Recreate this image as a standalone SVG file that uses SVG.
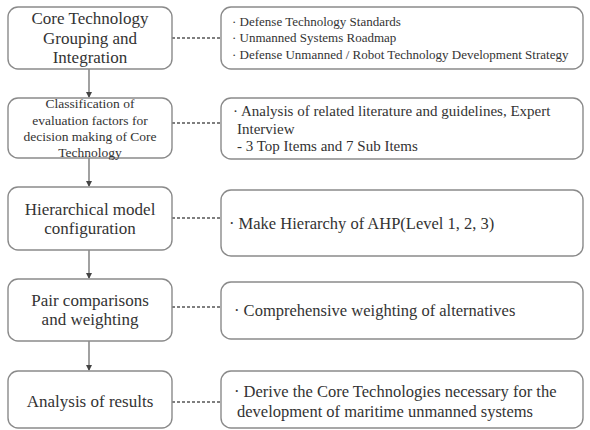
<svg xmlns="http://www.w3.org/2000/svg" width="590" height="430" viewBox="0 0 590 430">
<defs>
<marker id="ah" markerWidth="6" markerHeight="6" refX="5" refY="3" orient="auto" markerUnits="userSpaceOnUse">
<path d="M0,0 L6,3 L0,6 z" fill="#444"/>
</marker>
<style>
.box{fill:#fff;stroke:#8a8a8a;stroke-width:1.4}
.t{font-family:"Liberation Serif","Times New Roman",serif;fill:#333}
.l{text-anchor:middle;font-size:17px}
.dash{stroke:#555;stroke-width:1.3;stroke-dasharray:3,2;fill:none}
.arr{stroke:#555;stroke-width:1.1;fill:none}
</style>
</defs>
<rect width="590" height="430" fill="#fff"/>
<g id="connectors">
<line class="dash" x1="172" y1="38" x2="221" y2="38"/>
<line class="dash" x1="172" y1="123" x2="221" y2="123"/>
<line class="dash" x1="172" y1="218" x2="221" y2="218"/>
<line class="dash" x1="172" y1="307" x2="221" y2="307"/>
<line class="dash" x1="172" y1="402" x2="221" y2="402"/>
<line class="arr" x1="89" y1="69" x2="89" y2="97" marker-end="url(#ah)"/>
<line class="arr" x1="89" y1="158" x2="89" y2="186" marker-end="url(#ah)"/>
<line class="arr" x1="89" y1="250" x2="89" y2="278" marker-end="url(#ah)"/>
<line class="arr" x1="89" y1="341" x2="89" y2="370" marker-end="url(#ah)"/>
</g>
<g id="n1">
<rect class="box" x="8" y="7" width="164" height="62" rx="10"/>
<text class="t l" x="90" y="24">Core Technology</text>
<text class="t l" x="90" y="44">Grouping and</text>
<text class="t l" x="90" y="63">Integration</text>
</g>
<g id="n2">
<rect class="box" x="8" y="98" width="164" height="60" rx="10"/>
<text class="t l" x="90" y="108" style="font-size:13.5px">Classification of</text>
<text class="t l" x="90" y="125" style="font-size:13.5px">evaluation factors for</text>
<text class="t l" x="90" y="141" style="font-size:13.5px">decision making of Core</text>
<text class="t l" x="90" y="157" style="font-size:13.5px">Technology</text>
</g>
<g id="n3">
<rect class="box" x="8" y="187" width="164" height="63" rx="10"/>
<text class="t l" x="90" y="215">Hierarchical model</text>
<text class="t l" x="90" y="234">configuration</text>
</g>
<g id="n4">
<rect class="box" x="8" y="279" width="164" height="62" rx="10"/>
<text class="t l" x="90" y="306">Pair comparisons</text>
<text class="t l" x="90" y="325">and weighting</text>
</g>
<g id="n5">
<rect class="box" x="8" y="371" width="164" height="57" rx="10"/>
<text class="t l" x="90" y="407">Analysis of results</text>
</g>
<g id="r1">
<rect class="box" x="221" y="7" width="362" height="62" rx="10"/>
<text class="t" x="232" y="26" style="font-size:13px">· Defense Technology Standards</text>
<text class="t" x="232" y="42" style="font-size:13px">· Unmanned Systems Roadmap</text>
<text class="t" x="232" y="59" style="font-size:13px">· Defense Unmanned / Robot Technology Development Strategy</text>
</g>
<g id="r2">
<rect class="box" x="221" y="98" width="362" height="61" rx="10"/>
<text class="t" x="233" y="116" style="font-size:15px">· Analysis of related literature and guidelines, Expert</text>
<text class="t" x="237" y="134" style="font-size:15px">Interview</text>
<text class="t" x="237" y="151" style="font-size:15px"> - 3 Top Items and 7 Sub Items</text>
</g>
<g id="r3">
<rect class="box" x="221" y="190" width="362" height="66" rx="10"/>
<text class="t" x="229" y="229" style="font-size:16.5px">· Make Hierarchy of AHP(Level 1, 2, 3)</text>
</g>
<g id="r4">
<rect class="box" x="221" y="282" width="362" height="57" rx="10"/>
<text class="t" x="234" y="316" style="font-size:16.5px">· Comprehensive weighting of alternatives</text>
</g>
<g id="r5">
<rect class="box" x="221" y="371" width="362" height="57" rx="10"/>
<text class="t" x="234" y="397" style="font-size:16.5px">· Derive the Core Technologies necessary for the</text>
<text class="t" x="237" y="417" style="font-size:16.5px">development of maritime unmanned systems</text>
</g>
</svg>
